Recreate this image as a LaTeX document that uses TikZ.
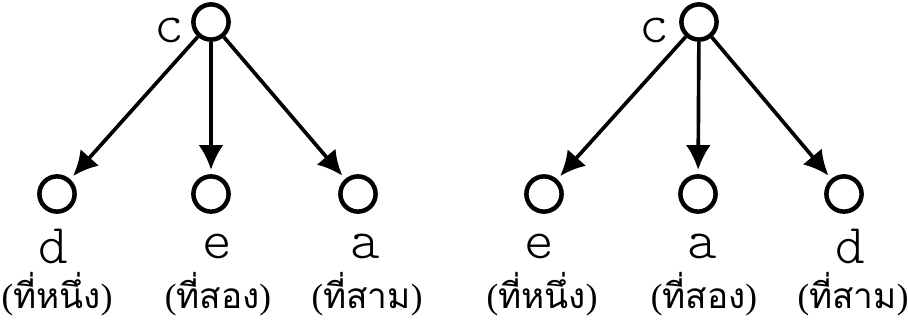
\documentclass[tikz,border=0pt]{standalone}
\usepackage{fontspec}
\setmainfont{Liberation Serif}
\setmonofont{lmmonolt10-regular.otf}
\newfontfamily\thaifont[Script=Thai]{Loma}
\usetikzlibrary{arrows.meta}
\newcommand\rankof[1]{({\thaifont #1})}
\begin{document}
\begin{tikzpicture}[x=0.025cm,y=-0.025cm,
    vertex/.style={circle,draw,line width=3.2pt,minimum size=0.88cm,inner sep=0pt},
    edge/.style={line width=2.6pt,-{Latex[length=0.62cm,width=0.62cm]},shorten >=3pt},
    sym/.style={font=\fontsize{40}{40}\selectfont\ttfamily,inner sep=0pt},
    rank/.style={font=\fontsize{25}{25}\selectfont,inner sep=0pt}]
    \useasboundingbox (0,0) rectangle (908,325);
    % first ordering
    \node[vertex] (c1) at (211,22) {};
    \node[vertex] (d1) at (57,194) {};
    \node[vertex] (e1) at (211,194) {};
    \node[vertex] (a1) at (358,194) {};
    \draw[edge] (c1) -- (d1);
    \draw[edge] (c1) -- (e1);
    \draw[edge] (c1) -- (a1);
    \node[sym] (lc1) at (169,30) {c};
    \node[sym] (ld1) at (53,246) {d};
    \node[sym] (le1) at (217,246) {e};
    \node[sym] (la1) at (365,246) {a};
    \node[rank] (rd1) at (57,294) {\rankof{ที่หนึ่ง}};
    \node[rank] (re1) at (218,294) {\rankof{ที่สอง}};
    \node[rank] (ra1) at (367,294) {\rankof{ที่สาม}};
    % second ordering
    \node[vertex] (c2) at (699,22) {};
    \node[vertex] (e2) at (544,194) {};
    \node[vertex] (a2) at (698,194) {};
    \node[vertex] (d2) at (844,194) {};
    \draw[edge] (c2) -- (e2);
    \draw[edge] (c2) -- (a2);
    \draw[edge] (c2) -- (d2);
    \node[sym] (lc2) at (654,30) {c};
    \node[sym] (le2) at (539,246) {e};
    \node[sym] (la2) at (702,246) {a};
    \node[sym] (ld2) at (850,246) {d};
    \node[rank] (re2) at (542,294) {\rankof{ที่หนึ่ง}};
    \node[rank] (ra2) at (704,294) {\rankof{ที่สอง}};
    \node[rank] (rd2) at (853,294) {\rankof{ที่สาม}};
\end{tikzpicture}
\end{document}
